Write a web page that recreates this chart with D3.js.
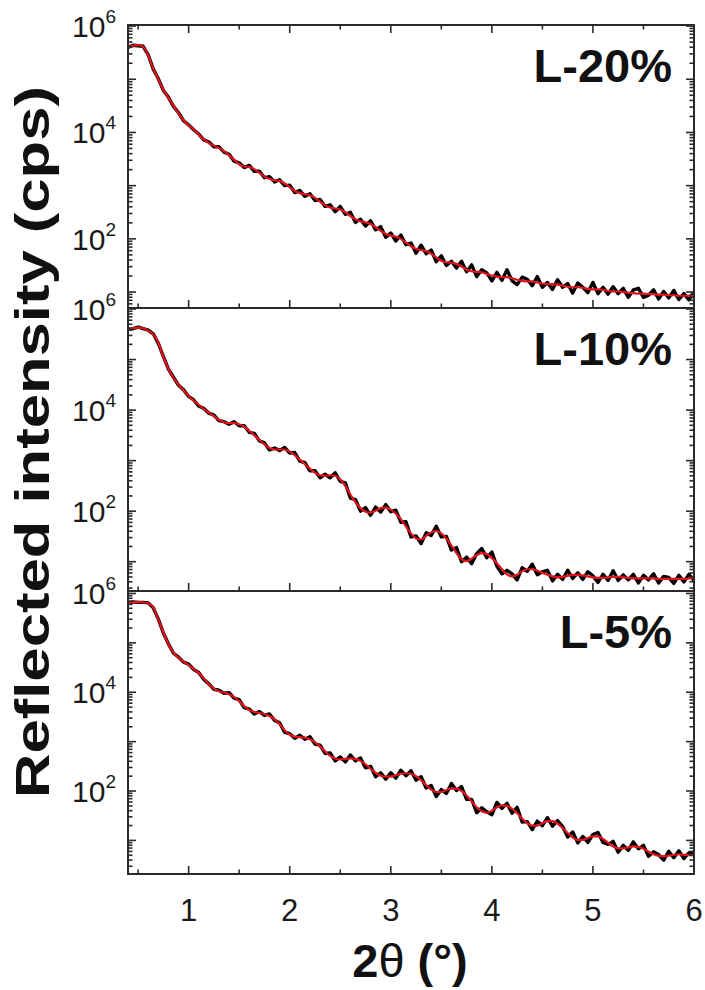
<!DOCTYPE html>
<html>
<head>
<meta charset="utf-8">
<script src="https://cdn.jsdelivr.net/npm/d3@7"></script>
<style>
  html, body { margin: 0; padding: 0; background: #fff; }
  svg { display: block; }
</style>
</head>
<body>
<svg id="chart" width="705" height="990"></svg>
<script>
// Scattering angle 2θ (degrees): measurement grid, 0.05° steps from 0.40° to 6.00°
const angleStep = 0.05;
const twoTheta = d3.range(113).map(i => +(0.40 + angleStep * i).toFixed(2));

// Sample names
const sampleLabels = ["L-20%", "L-10%", "L-5%"];

// Measured reflectivity, log10 of intensity in cps
const measuredL20 = [
  5.60, 5.64, 5.63, 5.62, 5.46, 5.19, 5.01, 4.79, 4.66, 4.49,
  4.37, 4.22, 4.14, 4.05, 3.97, 3.86, 3.82, 3.73, 3.73, 3.63,
  3.59, 3.46, 3.43, 3.34, 3.38, 3.27, 3.27, 3.15, 3.17, 3.07,
  3.11, 3.00, 3.01, 2.87, 2.91, 2.80, 2.85, 2.72, 2.74, 2.61,
  2.64, 2.51, 2.61, 2.46, 2.50, 2.31, 2.37, 2.24, 2.34, 2.17,
  2.23, 2.03, 2.11, 1.96, 2.07, 1.89, 1.92, 1.73, 1.88, 1.72,
  1.79, 1.57, 1.68, 1.50, 1.58, 1.45, 1.58, 1.38, 1.51, 1.29,
  1.42, 1.36, 1.21, 1.37, 1.22, 1.42, 1.21, 1.14, 1.28, 1.24,
  1.12, 1.29, 1.09, 1.18, 1.05, 1.23, 1.09, 1.16, 0.98, 1.17,
  1.09, 0.99, 1.18, 0.97, 1.09, 0.96, 1.10, 0.97, 1.07, 0.90,
  1.04, 1.07, 0.90, 0.94, 1.04, 0.87, 1.01, 0.89, 1.03, 0.86,
  0.97, 0.85, 1.00
];
const measuredL10 = [
  5.60, 5.61, 5.64, 5.61, 5.58, 5.51, 5.32, 5.06, 4.81, 4.65,
  4.49, 4.40, 4.27, 4.20, 4.08, 4.03, 3.94, 3.90, 3.79, 3.77,
  3.72, 3.77, 3.69, 3.69, 3.56, 3.54, 3.39, 3.35, 3.21, 3.25,
  3.20, 3.26, 3.15, 3.16, 2.99, 2.96, 2.80, 2.80, 2.66, 2.73,
  2.66, 2.76, 2.59, 2.56, 2.26, 2.23, 2.00, 2.07, 1.92, 2.08,
  1.98, 2.13, 1.99, 2.02, 1.78, 1.79, 1.49, 1.51, 1.36, 1.57,
  1.52, 1.70, 1.49, 1.50, 1.23, 1.28, 1.00, 1.09, 0.96, 1.16,
  1.26, 1.08, 1.19, 0.91, 0.76, 0.83, 0.76, 0.64, 0.88, 0.81,
  0.95, 0.74, 0.80, 0.83, 0.62, 0.75, 0.65, 0.83, 0.67, 0.78,
  0.65, 0.80, 0.72, 0.59, 0.75, 0.63, 0.82, 0.63, 0.74, 0.64,
  0.75, 0.58, 0.73, 0.64, 0.76, 0.58, 0.71, 0.69, 0.57, 0.73,
  0.60, 0.75, 0.63
];
const measuredL5 = [
  5.80, 5.83, 5.82, 5.82, 5.81, 5.71, 5.48, 5.20, 4.98, 4.79,
  4.71, 4.61, 4.57, 4.46, 4.40, 4.26, 4.17, 4.06, 4.04, 3.98,
  3.99, 3.88, 3.85, 3.69, 3.66, 3.56, 3.61, 3.53, 3.56, 3.43,
  3.38, 3.19, 3.16, 3.07, 3.13, 3.05, 3.10, 2.95, 2.93, 2.76,
  2.77, 2.61, 2.69, 2.59, 2.73, 2.61, 2.67, 2.47, 2.50, 2.29,
  2.37, 2.24, 2.37, 2.26, 2.42, 2.31, 2.41, 2.22, 2.29, 2.06,
  2.11, 1.89, 2.03, 1.95, 2.15, 2.01, 2.09, 1.83, 1.83, 1.56,
  1.66, 1.58, 1.52, 1.77, 1.65, 1.75, 1.55, 1.67, 1.37, 1.38,
  1.22, 1.39, 1.30, 1.46, 1.29, 1.40, 1.28, 1.07, 1.17, 0.95,
  1.08, 0.96, 1.12, 1.16, 0.96, 0.92, 0.98, 0.76, 0.90, 0.80,
  0.97, 0.83, 0.90, 0.68, 0.77, 0.71, 0.60, 0.78, 0.65, 0.79,
  0.63, 0.75, 0.74
];

// Fitted reflectivity model, log10 of intensity in cps
const fitL20 = [
  5.60, 5.63, 5.64, 5.61, 5.45, 5.20, 5.00, 4.80, 4.65, 4.50,
  4.36, 4.23, 4.13, 4.06, 3.96, 3.87, 3.80, 3.75, 3.71, 3.65,
  3.57, 3.49, 3.40, 3.36, 3.35, 3.31, 3.24, 3.17, 3.13, 3.10,
  3.09, 3.04, 2.97, 2.90, 2.86, 2.84, 2.82, 2.77, 2.70, 2.63,
  2.59, 2.57, 2.55, 2.50, 2.43, 2.37, 2.33, 2.31, 2.28, 2.22,
  2.15, 2.09, 2.06, 2.04, 2.00, 1.93, 1.86, 1.81, 1.79, 1.77,
  1.72, 1.65, 1.59, 1.56, 1.55, 1.53, 1.48, 1.42, 1.39, 1.38,
  1.37, 1.34, 1.31, 1.29, 1.28, 1.28, 1.26, 1.23, 1.21, 1.20,
  1.20, 1.18, 1.16, 1.15, 1.15, 1.14, 1.12, 1.10, 1.09, 1.09,
  1.08, 1.06, 1.05, 1.05, 1.04, 1.02, 1.01, 1.01, 1.00, 0.99,
  0.98, 0.97, 0.97, 0.96, 0.96, 0.95, 0.95, 0.94, 0.94, 0.93,
  0.93, 0.93, 0.93
];
const fitL10 = [
  5.60, 5.62, 5.63, 5.62, 5.57, 5.50, 5.33, 5.05, 4.82, 4.64,
  4.50, 4.39, 4.28, 4.19, 4.10, 4.02, 3.95, 3.88, 3.81, 3.76,
  3.74, 3.74, 3.72, 3.67, 3.59, 3.50, 3.41, 3.32, 3.25, 3.22,
  3.22, 3.22, 3.18, 3.11, 3.02, 2.93, 2.84, 2.76, 2.71, 2.70,
  2.71, 2.70, 2.63, 2.50, 2.33, 2.18, 2.06, 1.99, 1.97, 2.01,
  2.06, 2.07, 2.03, 1.95, 1.84, 1.70, 1.56, 1.46, 1.44, 1.51,
  1.58, 1.61, 1.56, 1.46, 1.32, 1.17, 1.05, 1.01, 1.06, 1.13,
  1.17, 1.15, 1.07, 0.97, 0.85, 0.75, 0.71, 0.74, 0.81, 0.85,
  0.85, 0.82, 0.78, 0.74, 0.71, 0.69, 0.70, 0.72, 0.74, 0.74,
  0.73, 0.71, 0.69, 0.68, 0.68, 0.69, 0.70, 0.70, 0.69, 0.68,
  0.67, 0.67, 0.67, 0.67, 0.67, 0.66, 0.66, 0.66, 0.66, 0.66,
  0.66, 0.67, 0.68
];
const fitL5 = [
  5.80, 5.82, 5.83, 5.82, 5.80, 5.72, 5.47, 5.21, 4.97, 4.80,
  4.70, 4.62, 4.55, 4.47, 4.39, 4.28, 4.16, 4.07, 4.02, 3.99,
  3.96, 3.90, 3.82, 3.72, 3.64, 3.60, 3.58, 3.56, 3.52, 3.45,
  3.35, 3.23, 3.14, 3.10, 3.09, 3.08, 3.05, 2.99, 2.90, 2.80,
  2.71, 2.66, 2.64, 2.65, 2.66, 2.65, 2.61, 2.54, 2.45, 2.37,
  2.31, 2.29, 2.29, 2.32, 2.35, 2.36, 2.35, 2.30, 2.22, 2.12,
  2.03, 1.98, 1.98, 2.02, 2.05, 2.05, 2.00, 1.91, 1.79, 1.67,
  1.59, 1.56, 1.60, 1.67, 1.71, 1.70, 1.64, 1.55, 1.44, 1.35,
  1.30, 1.30, 1.35, 1.39, 1.39, 1.34, 1.25, 1.15, 1.06, 1.01,
  1.01, 1.05, 1.08, 1.08, 1.03, 0.95, 0.88, 0.84, 0.84, 0.86,
  0.88, 0.87, 0.83, 0.77, 0.72, 0.69, 0.68, 0.69, 0.71, 0.72,
  0.71, 0.70, 0.70
];

// Axis ticks
const xMajorTicks = [1, 2, 3, 4, 5, 6];
const xMinorTicks = [0.5, 1.5, 2.5, 3.5, 4.5, 5.5];
const yLabelExponents = [6, 4, 2];

// ---- layout ----
const W = 705, H = 990;
const plotLeft = 128, plotRight = 694;
const panelBounds = [
  { top: 25,  bottom: 308, logMin: 0.70, logMax: 6.02 },
  { top: 308, bottom: 591, logMin: 0.42, logMax: 6.02 },
  { top: 591, bottom: 874, logMin: 0.32, logMax: 6.05 }
];
const measuredSets = [measuredL20, measuredL10, measuredL5];
const fitSets = [fitL20, fitL10, fitL5];

const AXIS_COLOR = "#2a2a2a";
const FIT_COLOR = "#e3121b";
const FONT = "'Liberation Sans', Arial, Helvetica, sans-serif";

const svg = d3.select("#chart");
svg.append("rect").attr("width", W).attr("height", H).attr("fill", "#fff");

const x = d3.scaleLinear().domain([0.4, 6.0]).range([plotLeft, plotRight]);

const defs = svg.append("defs");

panelBounds.forEach((pb, p) => {
  const y = d3.scaleLog()
    .domain([Math.pow(10, pb.logMin), Math.pow(10, pb.logMax)])
    .range([pb.bottom, pb.top]);

  const g = svg.append("g").attr("class", "panel");

  const clipId = "clip" + p;
  defs.append("clipPath").attr("id", clipId)
    .append("rect")
    .attr("x", plotLeft).attr("y", pb.top)
    .attr("width", plotRight - plotLeft).attr("height", pb.bottom - pb.top);

  const pts = (arr) => arr.map((v, i) => [twoTheta[i], Math.pow(10, v)]);

  const curves = g.append("g").attr("clip-path", `url(#${clipId})`);
  // measured data: black, noisy
  curves.append("path")
    .datum(pts(measuredSets[p]))
    .attr("d", d3.line().x(d => x(d[0])).y(d => y(d[1])).curve(d3.curveLinear))
    .attr("fill", "none")
    .attr("stroke", "#000")
    .attr("stroke-width", 3.4)
    .attr("stroke-linejoin", "round");
  // model fit: red, smooth
  curves.append("path")
    .datum(pts(fitSets[p]))
    .attr("d", d3.line().x(d => x(d[0])).y(d => y(d[1])).curve(d3.curveMonotoneX))
    .attr("fill", "none")
    .attr("stroke", FIT_COLOR)
    .attr("stroke-width", 2.2)
    .attr("stroke-linejoin", "round");

  // y ticks (left and right, pointing inward), decades and minor 2..9
  const yTicks = [];
  for (let d = Math.floor(pb.logMin); d <= Math.ceil(pb.logMax); d++) {
    for (let k = 1; k <= 9; k++) {
      const v = k * Math.pow(10, d);
      const lv = Math.log10(v);
      if (lv >= pb.logMin && lv <= pb.logMax) yTicks.push({ v, major: k === 1 });
    }
  }
  yTicks.forEach(t => {
    const yy = y(t.v);
    const len = t.major ? 8 : 4.5;
    g.append("line").attr("x1", plotLeft).attr("x2", plotLeft + len)
      .attr("y1", yy).attr("y2", yy)
      .attr("stroke", AXIS_COLOR).attr("stroke-width", 1.6);
    g.append("line").attr("x1", plotRight).attr("x2", plotRight - len)
      .attr("y1", yy).attr("y2", yy)
      .attr("stroke", AXIS_COLOR).attr("stroke-width", 1.6);
  });

  // x ticks along the panel bottom (pointing up); the first panel also has them on top
  const xt = xMajorTicks.map(v => ({ v, major: true }))
    .concat(xMinorTicks.map(v => ({ v, major: false })));
  xt.forEach(t => {
    const xx = x(t.v);
    const len = t.major ? 8 : 4.5;
    g.append("line").attr("x1", xx).attr("x2", xx)
      .attr("y1", pb.bottom).attr("y2", pb.bottom - len)
      .attr("stroke", AXIS_COLOR).attr("stroke-width", 1.6);
    if (p === 0) {
      g.append("line").attr("x1", xx).attr("x2", xx)
        .attr("y1", pb.top).attr("y2", pb.top + len)
        .attr("stroke", AXIS_COLOR).attr("stroke-width", 1.6);
    }
  });

  // frame
  g.append("rect")
    .attr("x", plotLeft).attr("y", pb.top)
    .attr("width", plotRight - plotLeft).attr("height", pb.bottom - pb.top)
    .attr("fill", "none").attr("stroke", AXIS_COLOR).attr("stroke-width", 2);

  // y tick labels: 10^n
  yLabelExponents.forEach(e => {
    const yy = y(Math.pow(10, e));
    const t = g.append("text")
      .attr("x", 116).attr("y", yy + 11)
      .attr("text-anchor", "end")
      .attr("font-family", FONT).attr("font-size", 30)
      .attr("fill", "#1a1a1a");
    t.append("tspan").text("10");
    t.append("tspan").attr("dy", -14).attr("font-size", 19).text(e);
  });

  // sample label
  g.append("text")
    .attr("x", 672).attr("y", pb.top + 57)
    .attr("text-anchor", "end")
    .attr("font-family", FONT).attr("font-weight", "bold")
    .attr("font-size", 47).attr("fill", "#111")
    .text(sampleLabels[p]);
});

// x tick labels under the bottom panel
xMajorTicks.forEach(v => {
  svg.append("text")
    .attr("x", x(v)).attr("y", 921)
    .attr("text-anchor", "middle")
    .attr("font-family", FONT).attr("font-size", 31)
    .attr("fill", "#1a1a1a")
    .text(v);
});

// axis titles
const xTitle = svg.append("text")
  .attr("x", 410).attr("y", 977)
  .attr("text-anchor", "middle")
  .attr("font-family", FONT).attr("font-weight", "bold")
  .attr("font-size", 47).attr("fill", "#111");
xTitle.append("tspan").text("2");
xTitle.append("tspan").attr("font-weight", "normal").text("θ");
xTitle.append("tspan").text(" (°)");

svg.append("text")
  .attr("transform", "translate(49,442) rotate(-90)")
  .attr("text-anchor", "middle")
  .attr("font-family", FONT).attr("font-weight", "bold")
  .attr("font-size", 49).attr("fill", "#111")
  .attr("textLength", 712).attr("lengthAdjust", "spacingAndGlyphs")
  .text("Reflected intensity (cps)");
</script>
</body>
</html>
